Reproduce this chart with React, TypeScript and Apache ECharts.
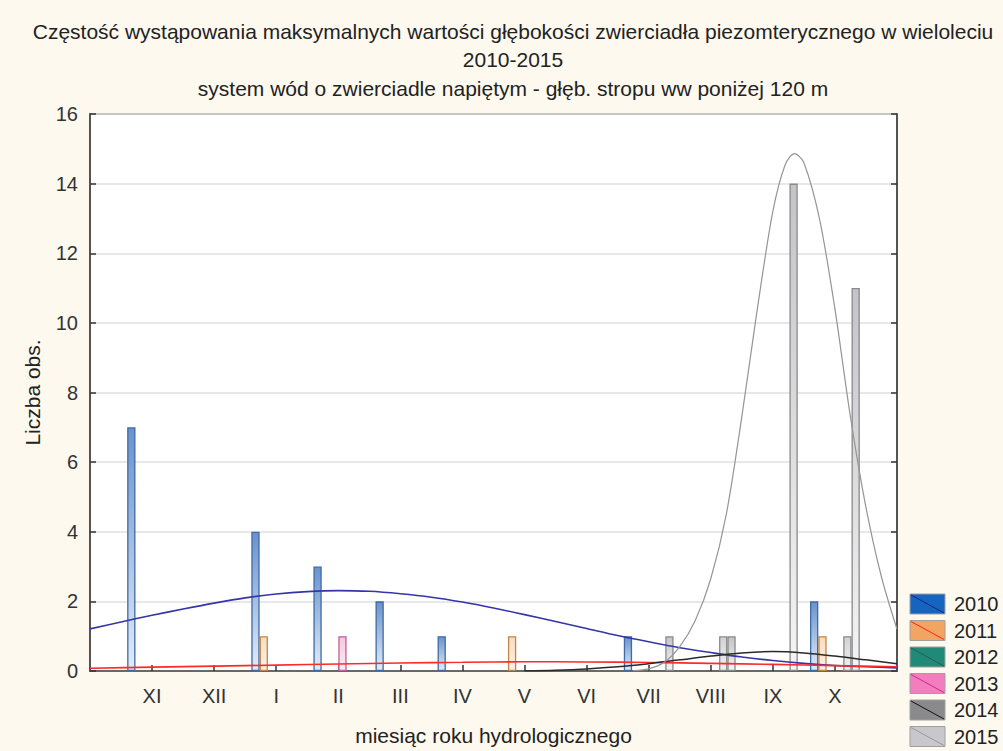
import React, { useEffect, useRef } from 'react';
import * as echarts from 'echarts';

const monthLabels = ['XI', 'XII', 'I', 'II', 'III', 'IV', 'V', 'VI', 'VII', 'VIII', 'IX', 'X'];
const years = ['2010', '2011', '2012', '2013', '2014', '2015'];

const counts2010 = [7, 0, 4, 3, 2, 1, 0, 0, 1, 0, 0, 2];
const counts2011 = [0, 0, 1, 0, 0, 0, 1, 0, 0, 0, 0, 1];
const counts2012 = [0, 0, 0, 0, 0, 0, 0, 0, 0, 0, 0, 0];
const counts2013 = [0, 0, 0, 1, 0, 0, 0, 0, 0, 0, 0, 0];
const counts2014 = [0, 0, 0, 0, 0, 0, 0, 0, 0, 1, 0, 1];
const counts2015 = [0, 0, 0, 0, 0, 0, 0, 0, 1, 1, 14, 11];

// fitted curves: [position on month axis, value]
const curve2010 = [
  [0, 1.21], [0.5, 1.41], [1, 1.6], [1.5, 1.78], [2, 1.95], [2.5, 2.1], [3, 2.21], [3.5, 2.28],
  [4, 2.31], [4.5, 2.29], [5, 2.22], [5.5, 2.12], [6, 1.98], [6.5, 1.81], [7, 1.62], [7.5, 1.42],
  [8, 1.22], [8.5, 1.02], [9, 0.84], [9.5, 0.67], [10, 0.53], [10.5, 0.4], [11, 0.3], [11.5, 0.22],
  [12, 0.16], [12.5, 0.12], [13, 0.09],
];
const curve2011 = [
  [0, 0.08], [1, 0.11], [2, 0.14], [3, 0.17], [4, 0.2], [5, 0.23], [6, 0.25], [7, 0.265],
  [8, 0.26], [9, 0.245], [10, 0.22], [11, 0.19], [12, 0.155], [13, 0.12],
];
const curve2014 = [
  [7, 0.01], [7.5, 0.025], [8, 0.06], [8.5, 0.12], [9, 0.21], [9.5, 0.32], [10, 0.43], [10.5, 0.52],
  [11, 0.56], [11.5, 0.52], [12, 0.43], [12.5, 0.32], [13, 0.21],
];
const curve2015 = [
  [8.75, 0.01], [9, 0.06], [9.25, 0.25], [9.5, 0.7], [9.75, 1.45], [10, 2.65], [10.25, 4.5],
  [10.5, 7.3], [10.75, 10.4], [11, 13.2], [11.2, 14.55], [11.35, 14.86], [11.5, 14.6],
  [11.75, 13.0], [12, 10.4], [12.25, 7.3], [12.5, 4.7], [12.75, 2.7], [13, 1.2],
];

const titleLines = [
  'Częstość wystąpowania maksymalnych wartości głębokości zwierciadła piezomterycznego w wieloleciu',
  '2010-2015',
  'system wód o zwierciadle napiętym - głęb. stropu ww poniżej 120 m',
];
const yTicks = { min: 0, max: 16, step: 2 };

const FONT = "'Liberation Sans', Arial, sans-serif";

const barStyles = [
  { top: '#6893cd', bottom: '#e3ecf8', border: '#3f6aa6' },
  { top: '#fbdcbc', bottom: '#fdf2e7', border: '#c0854a' },
  { top: '#7fc2b4', bottom: '#e0f2ee', border: '#2b7f6f' },
  { top: '#f5c6de', bottom: '#fcedf5', border: '#c0609a' },
  { top: '#d2d2d4', bottom: '#f2f2f3', border: '#8a8a8a' },
  { top: '#c4c4c8', bottom: '#f4f4f6', border: '#8a8a8a' },
];
const legendColors = [
  { fill: '#1565c0', diag: '#1a237e' },
  { fill: '#f2a462', diag: '#ff2020' },
  { fill: '#1f8a78', diag: '#2e5a4a' },
  { fill: '#f17fc0', diag: '#e0208a' },
  { fill: '#8a8a8c', diag: '#111111' },
  { fill: '#c8c8cc', diag: '#9a9a9a' },
];

const allCounts = [counts2010, counts2011, counts2012, counts2013, counts2014, counts2015];

export default function App() {
  const ref = useRef<HTMLDivElement>(null);
  useEffect(() => {
    if (!ref.current) return;
    const chart = echarts.init(ref.current, null, { renderer: 'svg' });

    const gridLeft = 90;
    const gridTop = 114;
    const gridW = 807;
    const gridH = 561;

    const barSeries = years.map((y, k) => ({
      name: y,
      type: 'bar',
      xAxisIndex: 0,
      yAxisIndex: 0,
      barWidth: 8.3,
      barGap: '0%',
      data: allCounts[k]
        .map((v, i) => (v > 0 ? [i + 1, v] : null))
        .filter((d) => d !== null),
      itemStyle: {
        color: new echarts.graphic.LinearGradient(0, 0, 0, 1, [
          { offset: 0, color: barStyles[k].top },
          { offset: 1, color: barStyles[k].bottom },
        ]),
        borderColor: barStyles[k].border,
        borderWidth: 1.3,
      },
      z: 2,
    }));

    const lineDefs = [
      { name: '2010 fit', data: curve2010, color: '#3535a8', width: 1.6 },
      { name: '2011 fit', data: curve2011, color: '#ff2a2a', width: 1.6 },
      { name: '2014 fit', data: curve2014, color: '#2a2a2a', width: 1.5 },
      { name: '2015 fit', data: curve2015, color: '#959595', width: 1.2 },
    ];
    const lineSeries = lineDefs.map((l) => ({
      name: l.name,
      type: 'line',
      xAxisIndex: 0,
      yAxisIndex: 0,
      data: l.data,
      smooth: 0.3,
      symbol: 'none',
      lineStyle: { color: l.color, width: l.width },
      z: 4,
      silent: true,
    }));

    // legend drawn as boxes with a diagonal stroke, like the reference
    const legendTop = 594;
    const legendLeft = 910;
    const boxW = 35;
    const boxH = 20;
    const step = 26.5;
    const legendGraphics: any[] = [];
    years.forEach((y, k) => {
      const top = legendTop + k * step;
      legendGraphics.push({
        type: 'rect',
        shape: { x: legendLeft, y: top, width: boxW, height: boxH },
        style: { fill: legendColors[k].fill, stroke: '#a0a0a0', lineWidth: 1 },
        z: 100,
      });
      legendGraphics.push({
        type: 'line',
        shape: { x1: legendLeft + 1, y1: top + 1, x2: legendLeft + boxW - 1, y2: top + boxH - 1 },
        style: { stroke: legendColors[k].diag, lineWidth: 1 },
        z: 101,
      });
      legendGraphics.push({
        type: 'text',
        x: 954,
        y: top + boxH / 2,
        style: {
          text: y,
          fontFamily: FONT,
          fontSize: 20,
          fill: '#222',
          textAlign: 'left',
          textVerticalAlign: 'middle',
          verticalAlign: 'middle',
        },
        z: 101,
      });
    });

    chart.setOption({
      animation: false,
      backgroundColor: '#fdf9ee',
      title: {
        text: titleLines.join('\n'),
        left: 513,
        top: 17,
        padding: 0,
        textAlign: 'center',
        textStyle: { fontFamily: FONT, fontSize: 21, fontWeight: 'normal', color: '#222', lineHeight: 28.5 },
      },
      grid: {
        left: gridLeft,
        top: gridTop,
        width: gridW,
        height: gridH,
        show: true,
        backgroundColor: '#ffffff',
        borderColor: '#4a4a4a',
        borderWidth: 1.5,
      },
      xAxis: [
        {
          type: 'value',
          min: 0,
          max: 13,
          interval: 1,
          name: 'miesiąc roku hydrologicznego',
          nameLocation: 'middle',
          nameGap: 54,
          nameTextStyle: { fontFamily: FONT, fontSize: 21, color: '#222' },
          axisLine: { show: true, lineStyle: { color: '#4a4a4a', width: 1.5 } },
          axisTick: { show: true, inside: true, length: 6, lineStyle: { color: '#333', width: 1.5 } },
          axisLabel: {
            fontFamily: FONT,
            fontSize: 20,
            color: '#333',
            margin: 15,
            showMinLabel: false,
            showMaxLabel: false,
            formatter: (v: number) => (v >= 1 && v <= 12 ? monthLabels[v - 1] : ''),
          },
          splitLine: { show: false },
        },
      ],
      yAxis: [
        {
          type: 'value',
          min: yTicks.min,
          max: yTicks.max,
          interval: yTicks.step,
          name: 'Liczba obs.',
          nameLocation: 'middle',
          nameGap: 47,
          nameTextStyle: { fontFamily: FONT, fontSize: 21, color: '#222' },
          axisLine: { show: true, lineStyle: { color: '#4a4a4a', width: 1.5 } },
          axisTick: { show: true, inside: true, length: 6, lineStyle: { color: '#333', width: 1.5 } },
          axisLabel: { fontFamily: FONT, fontSize: 20, color: '#333', margin: 12 },
          splitLine: { show: true, lineStyle: { color: '#e0e0e0', width: 1.5 } },
        },
        {
          type: 'value',
          position: 'right',
          min: yTicks.min,
          max: yTicks.max,
          interval: yTicks.step,
          axisLine: { show: true, lineStyle: { color: '#4a4a4a', width: 1.5 } },
          axisTick: { show: true, inside: true, length: 6, lineStyle: { color: '#333', width: 1.5 } },
          axisLabel: { show: false },
          splitLine: { show: false },
        },
      ],
      graphic: legendGraphics,
      series: [...barSeries, ...lineSeries],
    });
    return () => chart.dispose();
  }, []);
  return (
    <div
      ref={ref}
      style={{ position: 'fixed', left: 0, top: 0, width: 1003, height: 751, background: '#fdf9ee' }}
    />
  );
}
